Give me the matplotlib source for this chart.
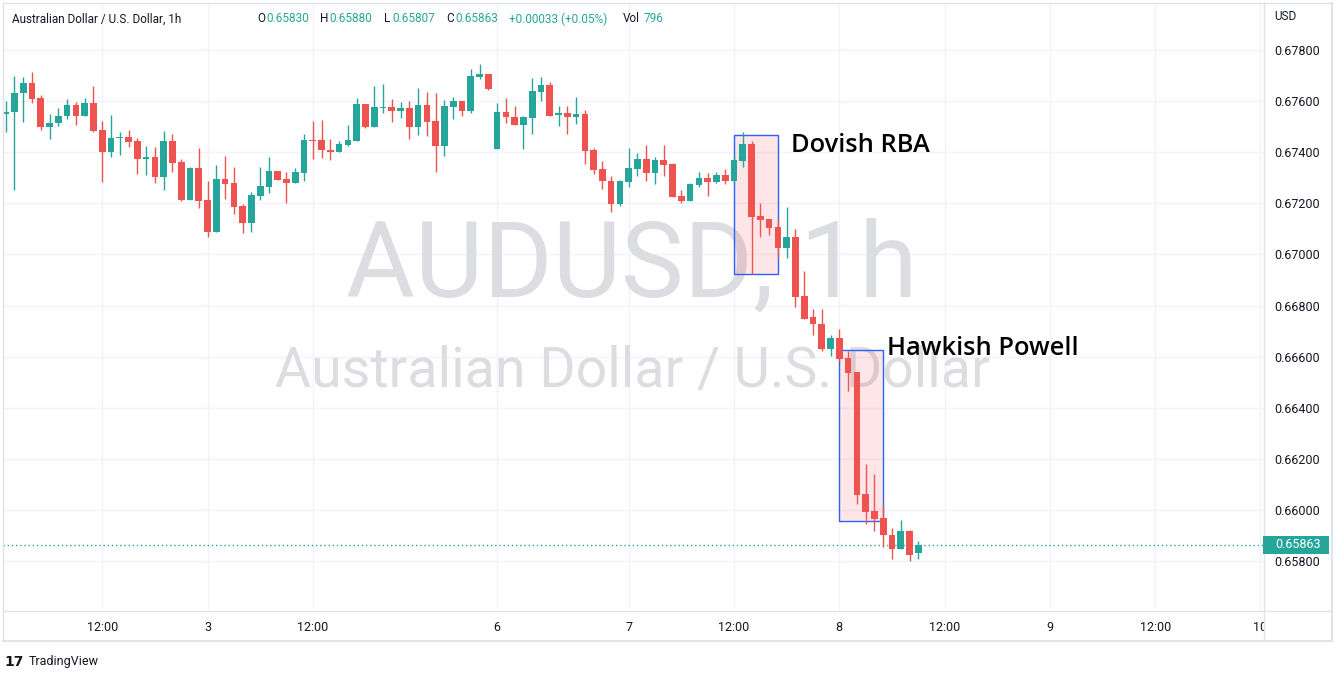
import matplotlib
matplotlib.use('Agg')
import matplotlib.pyplot as plt
from matplotlib.patches import Rectangle
from matplotlib.lines import Line2D
import numpy as np

# ---------------- data (AUDUSD 1h candles) ----------------
opens = [0.67548, 0.67556, 0.67630, 0.67670, 0.67612, 0.67497, 0.67513, 0.67540, 0.67586, 0.67543,
         0.67594, 0.67488, 0.67400, 0.67455, 0.67461, 0.67442, 0.67373, 0.67383, 0.67303, 0.67442,
         0.67360, 0.67213, 0.67340, 0.67212, 0.67088, 0.67297, 0.67278, 0.67188, 0.67123, 0.67229,
         0.67264, 0.67325, 0.67294, 0.67279, 0.67318, 0.67449, 0.67449, 0.67410, 0.67400, 0.67430,
         0.67445, 0.67590, 0.67497, 0.67574, 0.67578, 0.67562, 0.67574, 0.67497, 0.67586, 0.67523,
         0.67426, 0.67578, 0.67601, 0.67562, 0.67696, 0.67706, 0.67414, 0.67558, 0.67539, 0.67508,
         0.67535, 0.67636, 0.67664, 0.67547, 0.67555, 0.67539, 0.67551, 0.67410, 0.67336, 0.67289,
         0.67196, 0.67285, 0.67335, 0.67374, 0.67320, 0.67370, 0.67355, 0.67227, 0.67208, 0.67270,
         0.67301, 0.67285, 0.67312, 0.67289, 0.67366, 0.67434, 0.67149, 0.67138, 0.67106, 0.67025,
         0.67068, 0.66839, 0.66756, 0.66729, 0.66629, 0.66674, 0.66594, 0.66539, 0.66063, 0.65994,
         0.65969, 0.65902, 0.65848, 0.65919, 0.65830]
highs = [0.67601, 0.67699, 0.67694, 0.67713, 0.67625, 0.67551, 0.67574, 0.67609, 0.67597, 0.67613,
         0.67660, 0.67523, 0.67547, 0.67481, 0.67486, 0.67457, 0.67426, 0.67422, 0.67482, 0.67473,
         0.67375, 0.67344, 0.67418, 0.67286, 0.67348, 0.67387, 0.67344, 0.67196, 0.67244, 0.67344,
         0.67383, 0.67325, 0.67321, 0.67340, 0.67473, 0.67523, 0.67527, 0.67453, 0.67442, 0.67508,
         0.67613, 0.67590, 0.67660, 0.67668, 0.67609, 0.67597, 0.67601, 0.67652, 0.67636, 0.67632,
         0.67605, 0.67617, 0.67601, 0.67726, 0.67745, 0.67706, 0.67594, 0.67613, 0.67582, 0.67543,
         0.67691, 0.67695, 0.67675, 0.67582, 0.67582, 0.67617, 0.67566, 0.67418, 0.67364, 0.67308,
         0.67293, 0.67417, 0.67397, 0.67428, 0.67382, 0.67428, 0.67359, 0.67254, 0.67281, 0.67324,
         0.67320, 0.67324, 0.67335, 0.67386, 0.67479, 0.67442, 0.67200, 0.67138, 0.67140, 0.67184,
         0.67099, 0.66935, 0.66788, 0.66788, 0.66683, 0.66709, 0.66622, 0.66539, 0.66179, 0.66139,
         0.66018, 0.65931, 0.65959, 0.65923, 0.65880]
lows = [0.67478, 0.67252, 0.67517, 0.67591, 0.67488, 0.67453, 0.67501, 0.67531, 0.67508, 0.67543,
        0.67481, 0.67283, 0.67381, 0.67388, 0.67419, 0.67313, 0.67310, 0.67278, 0.67252, 0.67322,
        0.67208, 0.67213, 0.67182, 0.67069, 0.67088, 0.67217, 0.67158, 0.67084, 0.67088, 0.67213,
        0.67240, 0.67291, 0.67200, 0.67279, 0.67286, 0.67375, 0.67379, 0.67371, 0.67400, 0.67426,
        0.67442, 0.67494, 0.67497, 0.67555, 0.67519, 0.67535, 0.67453, 0.67469, 0.67465, 0.67321,
        0.67387, 0.67531, 0.67543, 0.67555, 0.67687, 0.67644, 0.67414, 0.67516, 0.67508, 0.67414,
        0.67473, 0.67601, 0.67543, 0.67504, 0.67473, 0.67512, 0.67352, 0.67313, 0.67255, 0.67165,
        0.67188, 0.67262, 0.67308, 0.67289, 0.67277, 0.67308, 0.67223, 0.67200, 0.67208, 0.67262,
        0.67227, 0.67281, 0.67277, 0.67274, 0.67343, 0.66923, 0.67068, 0.67075, 0.66986, 0.66986,
        0.66796, 0.66749, 0.66683, 0.66621, 0.66601, 0.66582, 0.66464, 0.66024, 0.65943, 0.65919,
        0.65856, 0.65809, 0.65848, 0.65801, 0.65807]
closes = [0.67558, 0.67632, 0.67670, 0.67610, 0.67497, 0.67516, 0.67543, 0.67586, 0.67543, 0.67594,
          0.67484, 0.67400, 0.67457, 0.67461, 0.67439, 0.67373, 0.67383, 0.67303, 0.67442, 0.67357,
          0.67213, 0.67340, 0.67209, 0.67088, 0.67297, 0.67275, 0.67186, 0.67123, 0.67231, 0.67266,
          0.67325, 0.67291, 0.67279, 0.67321, 0.67449, 0.67445, 0.67408, 0.67400, 0.67434, 0.67449,
          0.67590, 0.67497, 0.67578, 0.67578, 0.67562, 0.67574, 0.67497, 0.67586, 0.67519, 0.67426,
          0.67582, 0.67601, 0.67562, 0.67699, 0.67706, 0.67648, 0.67558, 0.67536, 0.67508, 0.67539,
          0.67640, 0.67664, 0.67543, 0.67555, 0.67539, 0.67551, 0.67406, 0.67332, 0.67286, 0.67196,
          0.67289, 0.67339, 0.67374, 0.67320, 0.67370, 0.67351, 0.67223, 0.67208, 0.67274, 0.67301,
          0.67285, 0.67312, 0.67289, 0.67370, 0.67432, 0.67145, 0.67135, 0.67103, 0.67025, 0.67068,
          0.66835, 0.66749, 0.66726, 0.66629, 0.66674, 0.66592, 0.66535, 0.66060, 0.65990, 0.65966,
          0.65900, 0.65848, 0.65919, 0.65825, 0.65863]

time_tick_pos = [11, 23, 35, 56, 71, 83, 95, 107, 119, 131, 143]
time_tick_labels = ['12:00', '3', '12:00', '6', '7', '12:00', '8', '12:00', '9', '12:00', '10']
price_ticks = [0.658, 0.660, 0.662, 0.664, 0.666, 0.668, 0.670, 0.672, 0.674, 0.676, 0.678]
last_price = 0.65863

event_labels = ['Dovish RBA', 'Hawkish Powell']
event_box_x0 = [83, 95]
event_box_x1 = [88, 100]
event_box_low = [0.66923, 0.65957]
event_box_high = [0.67467, 0.66626]
event_text_x = [89.5, 100.4]
event_text_y = [0.67428, 0.66632]

header_parts = [('O', '#131722'), ('0.65830', '#26a69a'), ('H', '#131722'), ('0.65880', '#26a69a'),
                ('L', '#131722'), ('0.65807', '#26a69a'), ('C', '#131722'), ('0.65863', '#26a69a'),
                ('+0.00033 (+0.05%)', '#26a69a'), ('Vol', '#131722'), ('796', '#26a69a')]
header_x = [257, 266, 320, 329, 384, 392, 446, 455, 509, 623, 644]

# ---------------- styling ----------------
UP = '#26a69a'
DOWN = '#ef5350'
GRID = '#f0f3fa'
BORDER = '#e0e3eb'
TXT = '#131722'
FONT = 'Roboto'

W, H = 1344, 681
fig = plt.figure(figsize=(W / 100, H / 100), dpi=100)
fig.patch.set_facecolor('white')


def fx(px):
    return px / W


def fy(py):
    return 1 - py / H


ax = fig.add_axes([fx(3), fy(610), fx(1264) - fx(3), fy(3) - fy(610)])
ax.set_facecolor('white')

n = len(opens)
x = np.arange(n)
o = np.array(opens); h = np.array(highs); l = np.array(lows); c = np.array(closes)
up = c >= o
colors = np.where(up, UP, DOWN)

ax.vlines(x, l, h, colors=colors, linewidth=1.0, zorder=3)
body_bottom = np.minimum(o, c)
body_h = np.maximum(np.abs(c - o), 0.00003)
ax.bar(x, body_h, bottom=body_bottom, width=0.76, color=colors, edgecolor='none', zorder=4)

# event boxes
for x0, x1, lo, hi, lab, tx, ty in zip(event_box_x0, event_box_x1, event_box_low, event_box_high,
                                       event_labels, event_text_x, event_text_y):
    ax.add_patch(Rectangle((x0, lo), x1 - x0, hi - lo, facecolor=(0.95, 0.30, 0.36, 0.14),
                           edgecolor='#2962ff', linewidth=1.0, zorder=2))
    ax.text(tx, ty, lab, fontsize=18.3, fontfamily='Open Sans', fontweight='semibold',
            color='black', ha='left', va='center', zorder=6)

# watermark
ax.text(0.4988, 0.5157, 'AUDUSD, 1h', transform=ax.transAxes, fontsize=76, fontfamily=FONT,
        color='#dcdde0', ha='center', va='baseline', zorder=1)
ax.text(0.4988, 0.3674, 'Australian Dollar / U.S. Dollar', transform=ax.transAxes, fontsize=40,
        fontfamily=FONT, color='#dcdde0', ha='center', va='baseline', zorder=1)

# last price line
ax.axhline(last_price, color=UP, linestyle=(0, (1, 2)), linewidth=1, zorder=2)

ax.set_xlim(-0.308, 143.4)
ax.set_ylim(0.656082, 0.679840)

ax.set_yticks(price_ticks)
ax.set_yticklabels([f'{p:.5f}' for p in price_ticks])
ax.yaxis.tick_right()
ax.set_xticks(time_tick_pos)
ax.set_xticklabels(time_tick_labels)
ax.tick_params(axis='y', length=0, pad=7.5, labelsize=9, labelcolor=TXT)
ax.tick_params(axis='x', length=0, pad=8, labelsize=9, labelcolor=TXT)
for lab in ax.get_xticklabels() + ax.get_yticklabels():
    lab.set_fontfamily(FONT)
ax.grid(True, color=GRID, linewidth=1, zorder=0)
ax.set_axisbelow(True)
for s in ax.spines.values():
    s.set_visible(False)


# frame / separators
def fline(x0, y0, x1, y1, color=BORDER, lw=1.0, z=11):
    fig.add_artist(Line2D([fx(x0), fx(x1)], [fy(y0), fy(y1)], color=color, linewidth=lw, zorder=z))


# clip area of price scale under time axis
fig.add_artist(Rectangle((fx(1264), fy(641)), fx(1332) - fx(1264), fy(611) - fy(641),
                         transform=fig.transFigure, facecolor='white', edgecolor='none', zorder=10))
fline(3, 3, 1332, 3)
fline(3, 641, 1332, 641, lw=1.5)
fline(3, 3, 3, 641)
fline(1332, 3, 1332, 641, lw=1.5)
fline(3, 611, 1332, 611)
fline(1264, 3, 1264, 641)

# last price label on scale
fig.add_artist(Rectangle((fx(1263), fy(554)), fx(1329) - fx(1263), fy(536) - fy(554),
                         transform=fig.transFigure, facecolor=UP, edgecolor='none', zorder=12))
fig.text(fx(1275), fy(545), f'{last_price:.5f}', color='white', fontsize=9, fontfamily=FONT,
         ha='left', va='center', zorder=13)

fig.text(fx(1274), fy(17), 'USD', color=TXT, fontsize=8.5, fontfamily=FONT, ha='left', va='center')

# header legend
fig.text(fx(12), fy(19), 'Australian Dollar / U.S. Dollar, 1h', color=TXT, fontsize=8.5,
         fontfamily=FONT, ha='left', va='center')
for (t, col), xp in zip(header_parts, header_x):
    fig.text(fx(xp), fy(19), t, color=col, fontsize=8.5, fontfamily=FONT, ha='left', va='center')

# TradingView logo
fig.text(fx(4), fy(662), '17', color=TXT, fontsize=10, fontfamily='DejaVu Sans', fontweight='heavy',
         ha='left', va='center')
fig.text(fx(29), fy(662), 'TradingView', color=TXT, fontsize=9, fontfamily=FONT,
         ha='left', va='center')

fig.savefig('out.png', dpi=100, facecolor='white')
